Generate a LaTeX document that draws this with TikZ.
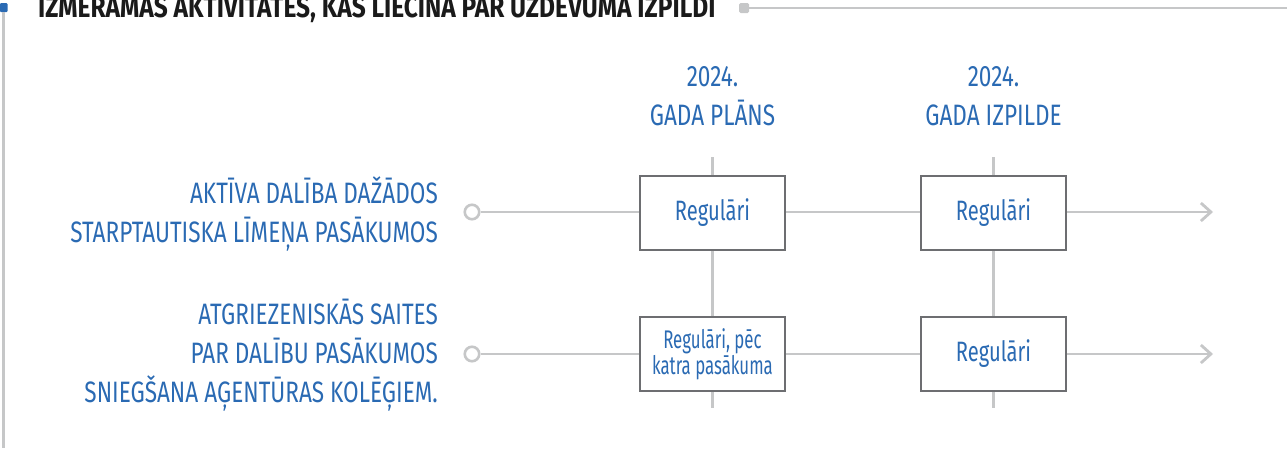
\documentclass[tikz,border=0pt]{standalone}
\usepackage{fontspec}
\usetikzlibrary{arrows.meta}
\newfontfamily\cf[FakeStretch=0.765]{Fira Sans}
\newfontfamily\cfa[FakeStretch=0.72]{Fira Sans}
\newfontfamily\cfc[FakeStretch=0.66]{Fira Sans}
\newfontfamily\cfb[FakeStretch=0.83]{Fira Sans}
\definecolor{lblue}{HTML}{2A6AB3}
\definecolor{lgray}{HTML}{C6C7C8}
\definecolor{bgray}{HTML}{6D6E71}
\definecolor{ttl}{HTML}{1A1A1A}
\tikzset{
  x=1pt, y=-1pt,
  conn/.style={draw=lgray, line width=2.8pt},
  valbox/.style={draw=bgray, line width=2.8pt, fill=white, minimum width=145pt, minimum height=74pt, inner sep=0pt, text=lblue, align=center, font=\cfa\fontsize{28}{30}\selectfont},
  lbl/.style={text=lblue, inner sep=0pt, font=\cf\fontsize{29.5}{39}\selectfont},
  dot/.style={circle, draw=lgray, line width=2.6pt, minimum size=14.5pt, inner sep=0pt, fill=white},
  tip/.style={-{Straight Barb[length=10pt,width=18pt,line width=2.8pt]}}
}
\begin{document}
\begin{tikzpicture}
\useasboundingbox (0,0) rectangle (1287,448);
\clip (0,0) rectangle (1287,448);
% title
\node[anchor=base west, inner sep=0pt, text=ttl, font=\cfb\bfseries\fontsize{29.5}{30}\selectfont] (title) at (38,17) {IZMĒRĀMAS AKTIVITĀTES, KAS LIECINA PAR UZDEVUMA IZPILDI};
\node[fill=lblue, minimum width=7.5pt, minimum height=9pt, inner sep=0pt, rounded corners=1pt] (bsq) at (3.75,7.5) {};
\coordinate (vbot) at (3.75,448);
\draw[conn] (bsq.south) -- (vbot);
\node[fill=lgray, minimum width=10pt, minimum height=10pt, inner sep=0pt, rounded corners=1.5pt] (gsq) at (744,8) {};
\coordinate (hend) at (1287,8);
\draw[conn] (gsq.east) -- (hend);
% column headers
\node[lbl, align=center, anchor=base] (h1) at (712.5,125) {2024.\\GADA PLĀNS};
\node[lbl, align=center, anchor=base] (h2) at (993.5,125) {2024.\\GADA IZPILDE};
% left labels
\node[lbl, align=right, anchor=east] (l1) at (438,214) {AKTĪVA DALĪBA DAŽĀDOS\\STARPTAUTISKA LĪMEŅA PASĀKUMOS};
\node[lbl, align=right, anchor=east] (l2) at (438,355) {ATGRIEZENISKĀS SAITES\\PAR DALĪBU PASĀKUMOS\\SNIEGŠANA AĢENTŪRAS KOLĒĢIEM.};
% coordinates
\coordinate (t1) at (712.5,157);
\coordinate (t2) at (993.5,157);
\coordinate (u1) at (712.5,408);
\coordinate (u2) at (993.5,408);
\node[dot] (o1) at (472,212) {};
\node[dot] (o2) at (472,354) {};
\coordinate (e1) at (1213,212);
\coordinate (e2) at (1213,354);
% vertical connectors
\draw[conn] (t1) -- (u1);
\draw[conn] (t2) -- (u2);
% row connectors
\draw[conn] (o1.east) -- (712.5,212);
\draw[conn, tip] (712.5,212) -- (e1);
\draw[conn] (o2.east) -- (712.5,354);
\draw[conn, tip] (712.5,354) -- (e2);
% boxes
\node[valbox] (b11) at (712.5,213) {Regulāri};
\node[valbox] (b12) at (993.5,213) {Regulāri};
\node[valbox, font=\cfc\fontsize{25.5}{26}\selectfont] (b21) at (712.5,354) {Regulāri, pēc\\katra pasākuma};
\node[valbox] (b22) at (993.5,354) {Regulāri};
\end{tikzpicture}
\end{document}
